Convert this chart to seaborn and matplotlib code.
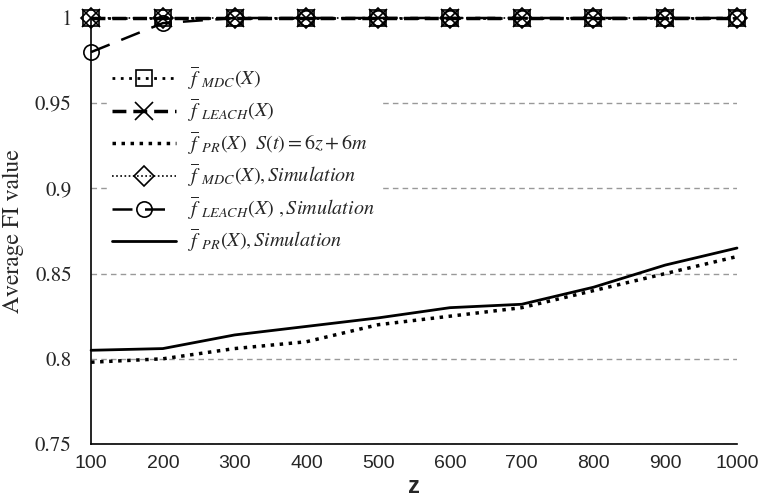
import matplotlib
matplotlib.use("Agg")
import pandas as pd
import seaborn as sns
import matplotlib.pyplot as plt

# data
z = [100, 200, 300, 400, 500, 600, 700, 800, 900, 1000]
mdc_theory = [1, 1, 1, 1, 1, 1, 1, 1, 1, 1]
leach_theory = [1, 1, 1, 1, 1, 1, 1, 1, 1, 1]
pr_theory = [0.798, 0.800, 0.806, 0.810, 0.820, 0.825, 0.830, 0.840, 0.850, 0.860]
mdc_sim = [1, 1, 1, 1, 1, 1, 1, 1, 1, 1]
leach_sim = [0.980, 0.997, 1, 1, 1, 1, 1, 1, 1, 1]
pr_sim = [0.805, 0.806, 0.814, 0.819, 0.824, 0.830, 0.832, 0.842, 0.855, 0.865]

labels = [r"$\overline{f}_{\,\,\,MDC}(X)$",
          r"$\overline{f}_{\,\,\,LEACH}(X)$",
          r"$\overline{f}_{\,\,\,PR}(X)\ \ S(t) = 6z + 6m$",
          r"$\overline{f}_{\,\,\,MDC}(X), Simulation$",
          r"$\overline{f}_{\,\,\,LEACH}(X)\ , Simulation$",
          r"$\overline{f}_{\,\,\,PR}(X), Simulation$"]

sns.set_style("white")
plt.rcParams["mathtext.fontset"] = "stix"
serif = ["STIXGeneral", "Liberation Serif", "DejaVu Serif"]
sans = ["Liberation Sans Narrow", "Liberation Sans", "DejaVu Sans"]
plt.rcParams["font.family"] = serif

fig = plt.figure(figsize=(7.59, 5), dpi=100)
ax = fig.add_axes([0.12, 0.112, 0.851, 0.852])

for yv in [0.75, 0.8, 0.85, 0.9, 0.95]:
    ax.axhline(yv, color="#999999", ls=(0, (4, 3)), lw=1, zorder=0)

# series styles
styles = [
    dict(data=mdc_theory, ls=(0, (1, 2)), lw=2, marker="s", ms=11),
    dict(data=leach_theory, ls=(0, (4, 2)), lw=2.5, marker="x", ms=13),
    dict(data=pr_theory, ls=(0, (1, 1.6)), lw=2.5, marker=None, ms=0),
    dict(data=mdc_sim, ls=(0, (1, 1.5)), lw=1.2, marker="D", ms=10),
    dict(data=leach_sim, ls=(0, (8, 5)), lw=1.8, marker="o", ms=11),
    dict(data=pr_sim, ls="-", lw=2, marker=None, ms=0),
]

for lab, st in zip(labels, styles):
    df = pd.DataFrame({"z": z, "v": st["data"]})
    sns.lineplot(data=df, x="z", y="v", ax=ax, label=lab, color="black",
                 linestyle=st["ls"], lw=st["lw"], marker=st["marker"],
                 markersize=st["ms"], markerfacecolor="none",
                 markeredgecolor="black", markeredgewidth=1.2,
                 clip_on=False, dashes=False)

ax.set_xlim(100, 1000)
ax.set_ylim(0.75, 1.0)
ax.set_xticks(z)
ax.set_yticks([0.75, 0.8, 0.85, 0.9, 0.95, 1])
ax.set_yticklabels(["0.75", "0.8", "0.85", "0.9", "0.95", "1"], fontsize=15,
                   family=serif)
ax.set_xticklabels([str(v) for v in z], fontsize=14, family=sans)
ax.tick_params(axis="x", direction="in", length=4, color="black", pad=8)
ax.tick_params(axis="y", length=0, pad=14)

for s in ["top", "right"]:
    ax.spines[s].set_visible(False)
ax.spines["left"].set_color("black")
ax.spines["bottom"].set_color("black")
ax.spines["left"].set_linewidth(1.2)
ax.spines["bottom"].set_linewidth(1.2)

ax.set_ylabel("Average FI value", fontsize=17, labelpad=8, family=serif)
ax.set_xlabel("z", fontsize=17, fontweight="bold", family=sans, labelpad=2)

leg = ax.legend(loc="upper left", bbox_to_anchor=(0.01, 0.925), frameon=True,
                fontsize=14.5, handlelength=3.2, labelspacing=0.25,
                borderpad=0.2, handletextpad=0.6)
leg.get_frame().set_edgecolor("white")
leg.get_frame().set_facecolor("white")
leg.get_frame().set_alpha(1)

fig.savefig("out.png", dpi=100)
